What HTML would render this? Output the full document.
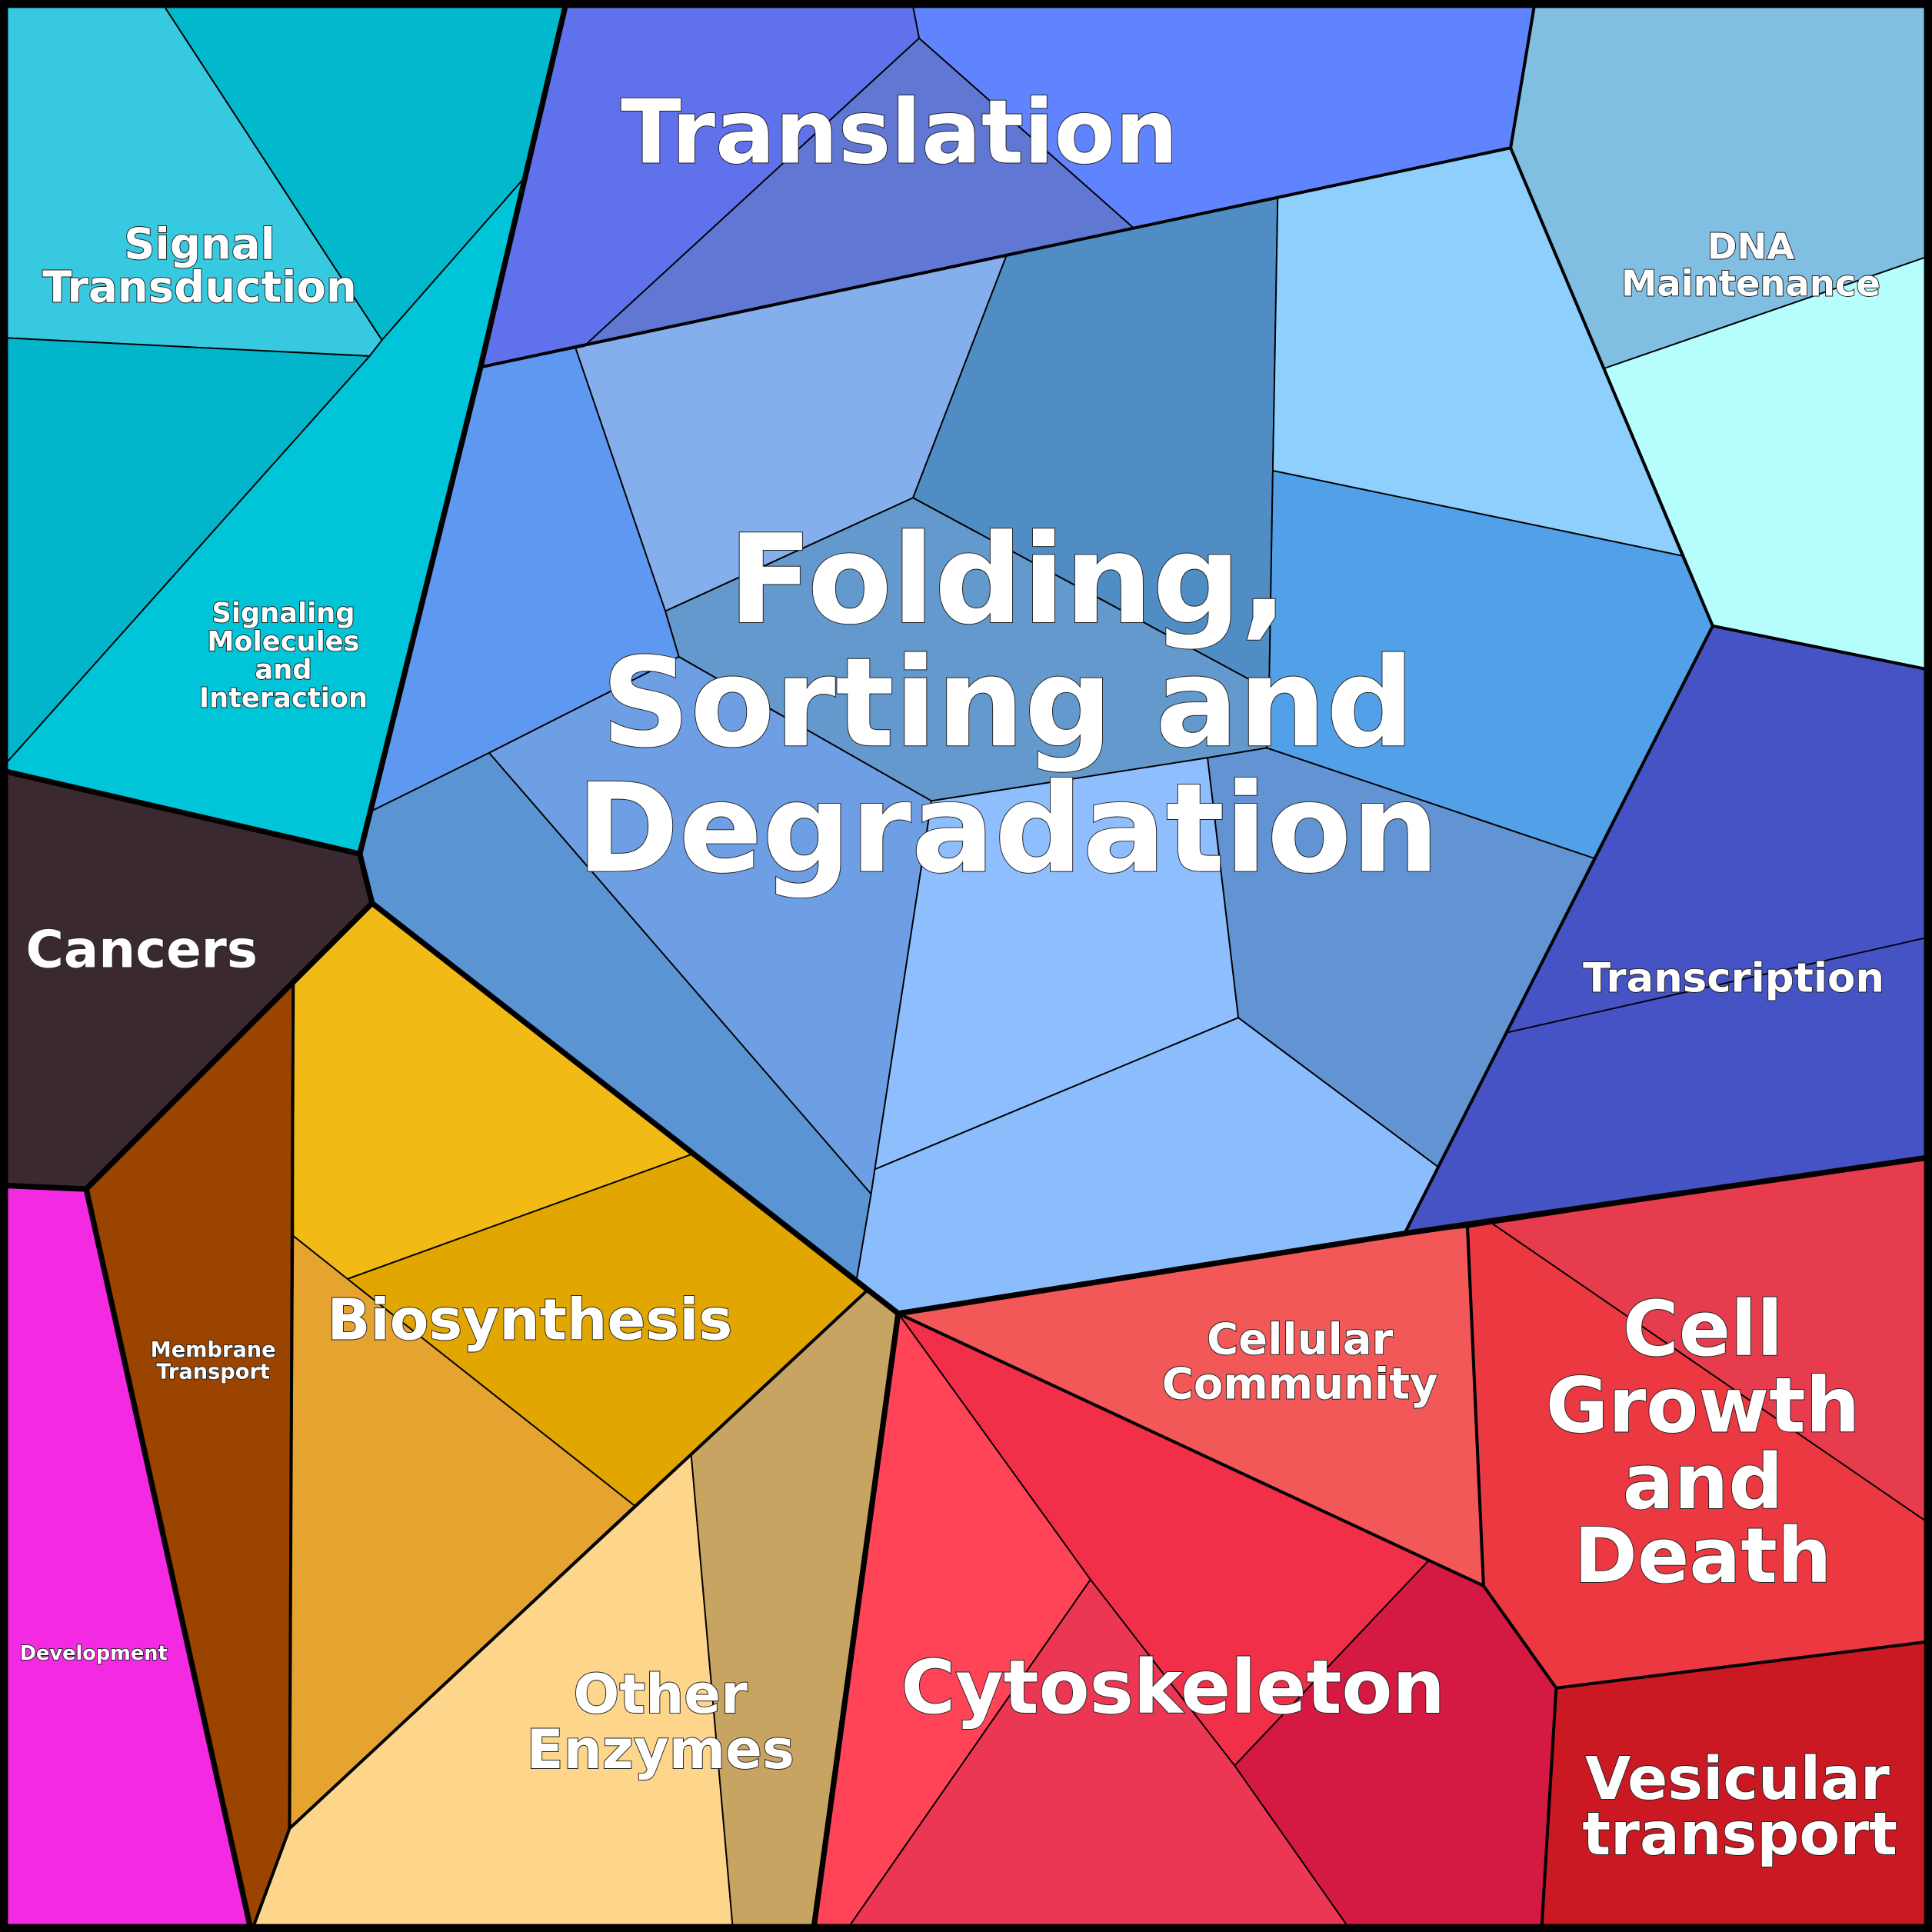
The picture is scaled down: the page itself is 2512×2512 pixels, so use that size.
<!DOCTYPE html>
<html><head><meta charset="utf-8"><style>html,body{margin:0;padding:0;background:#fff}svg{display:block}
text{font-family:"DejaVu Sans","Liberation Sans",sans-serif;font-weight:bold;fill:#fff;stroke:#222;stroke-width:1.2;paint-order:stroke;text-anchor:middle}</style></head><body>
<svg width="2512" height="2512" viewBox="0 0 1568 1568" xmlns="http://www.w3.org/2000/svg">
<g stroke="#000" stroke-width="1.2" stroke-linejoin="round">
<polygon fill="#36C9E0" points="0,0 130,0 310,276 300,289 0,274"/>
<polygon fill="#02B8CC" points="130,0 460,0 425,145 310,276"/>
<polygon fill="#02B5CA" points="0,274 300,289 0,625"/>
<polygon fill="#00C5D8" points="425,145 390,298 292,693 0,625 300,289 310,276"/>
<polygon fill="#3B2932" points="0,625 292,693 302,733 70,965 0,962"/>
<polygon fill="#F42AE2" points="0,962 70,965 204,1568 0,1568"/>
<polygon fill="#9A4400" points="70,965 238,797 235,1484 204,1568"/>
<polygon fill="#F2BA14" points="238,797 302,733 561,937 282,1038 238,1003"/>
<polygon fill="#E2A600" points="282,1038 561,937 703,1048 515,1222"/>
<polygon fill="#E5A430" points="238,1003 282,1038 515,1222 235,1484"/>
<polygon fill="#FDD68B" points="235,1484 515,1222 561,1181 595,1568 204,1568"/>
<polygon fill="#C8A462" points="561,1181 703,1048 729,1066 660,1568 595,1568"/>
<polygon fill="#5F98F0" points="390,298 467,282 540,496 551,533 397,611 302,658"/>
<polygon fill="#5B94D3" points="302,658 397,611 707,969 695,1040 302,733 292,693"/>
<polygon fill="#6E9FE5" points="397,611 551,533 756,650 710,949 707,969"/>
<polygon fill="#85AEEC" points="467,282 817,207 741,404 540,496"/>
<polygon fill="#6399CC" points="540,496 741,404 1030,560 1028,607 980,615 756,650 551,533"/>
<polygon fill="#4F8DC4" points="817,207 1037,160 1033,382 1030,560 741,404"/>
<polygon fill="#8ECFFD" points="1037,160 1226,120 1365,451 1033,382"/>
<polygon fill="#52A1E8" points="1033,382 1365,451 1390,508 1295,697 1028,607 1030,560"/>
<polygon fill="#6293D3" points="980,615 1028,607 1295,697 1167,947 1005,826"/>
<polygon fill="#8FBEFE" points="756,650 980,615 1005,826 710,949"/>
<polygon fill="#8BBDFD" points="710,949 1005,826 1167,947 1140,1001 729,1066 695,1040 707,969"/>
<polygon fill="#5F72EB" points="460,0 740,0 746,31 474,281 390,298 425,145"/>
<polygon fill="#6077D4" points="746,31 920,185 817,207 467,282 474,281"/>
<polygon fill="#6083FE" points="740,0 1246,0 1226,120 1037,160 920,185 746,31"/>
<polygon fill="#80BEE2" points="1246,0 1568,0 1568,207 1302,299 1226,120"/>
<polygon fill="#B5FEFD" points="1302,299 1568,207 1568,544 1390,508"/>
<polygon fill="#4553C5" points="1390,508 1568,544 1568,939 1140,1001 1167,947 1295,697"/>
<line x1="1223" y1="838" x2="1568" y2="760"/>
<polygon fill="#E73C4D" points="1211,993 1568,939 1568,1238"/>
<polygon fill="#EC3941" points="1191,996 1211,993 1568,1238 1568,1332 1263,1370 1204,1287"/>
<polygon fill="#F25858" points="729,1066 1140,1001 1191,996 1204,1287"/>
<polygon fill="#F22F48" points="729,1066 1160,1266 1002,1433 885,1282"/>
<polygon fill="#D41942" points="1160,1266 1204,1287 1263,1370 1251,1568 1097,1568 1002,1433"/>
<polygon fill="#FF4457" points="729,1066 885,1282 686,1568 660,1568"/>
<polygon fill="#EB3753" points="885,1282 1002,1433 1097,1568 686,1568"/>
<polygon fill="#CA1923" points="1263,1370 1568,1332 1568,1568 1251,1568"/>
</g>
<g fill="none" stroke="#000" stroke-linejoin="round">
<polyline stroke-width="2.5" points="390,298 1226,120 1246,0"/>
<polyline stroke-width="2.5" points="1226,120 1390,508 1568,544"/>
<polyline stroke-width="2.5" points="1390,508 1140,1001"/>
<polyline stroke-width="2.5" points="1191,996 1204,1287 1263,1370 1251,1568"/>
<polyline stroke-width="2.5" points="1263,1370 1568,1332"/>
<polyline stroke-width="2.5" points="729,1066 1204,1287"/>
<polyline stroke-width="2.5" points="235,1484 703,1048"/>
<polyline stroke-width="2.5" points="238,797 235,1484 204,1568"/>
<polyline stroke-width="4.5" points="460,0 390,298 292,693 0,625"/>
<polyline stroke-width="4.5" points="292,693 302,733 70,965 0,962"/>
<polyline stroke-width="4.5" points="70,965 204,1568"/>
<polyline stroke-width="4.5" points="302,733 729,1066 1140,1001 1568,939"/>
<polyline stroke-width="4.5" points="729,1066 660,1568"/>
<rect x="3" y="3" width="1562" height="1562" stroke-width="7"/>
</g>
<text x="730" y="132" font-size="72">Translation</text>
<text x="818" y="505" font-size="100">Folding,</text>
<text x="818" y="605" font-size="100">Sorting and</text>
<text x="818" y="707" font-size="100">Degradation</text>
<text x="162" y="210" font-size="35">Signal</text>
<text x="162" y="245" font-size="35">Transduction</text>
<text x="1421" y="210" font-size="29">DNA</text>
<text x="1421" y="240" font-size="29">Maintenance</text>
<text x="230" y="505" font-size="22">Signaling</text>
<text x="230" y="528" font-size="22">Molecules</text>
<text x="230" y="551" font-size="22">and</text>
<text x="230" y="574" font-size="22">Interaction</text>
<text x="115" y="785" font-size="42">Cancers</text>
<text x="1407" y="805" font-size="33">Transcription</text>
<text x="173" y="1101" font-size="17">Membrane</text>
<text x="173" y="1119" font-size="17">Transport</text>
<text x="76" y="1347" font-size="16">Development</text>
<text x="430" y="1087" font-size="46">Biosynthesis</text>
<text x="1055" y="1099" font-size="35">Cellular</text>
<text x="1055" y="1135" font-size="35">Community</text>
<text x="1382" y="1100" font-size="62">Cell</text>
<text x="1382" y="1162" font-size="62">Growth</text>
<text x="1382" y="1224" font-size="62">and</text>
<text x="1382" y="1284" font-size="62">Death</text>
<text x="536" y="1390" font-size="44">Other</text>
<text x="536" y="1435" font-size="44">Enzymes</text>
<text x="952" y="1390" font-size="60">Cytoskeleton</text>
<text x="1410" y="1460" font-size="48">Vesicular</text>
<text x="1412" y="1505" font-size="48">transport</text>
</svg>
</body></html>
